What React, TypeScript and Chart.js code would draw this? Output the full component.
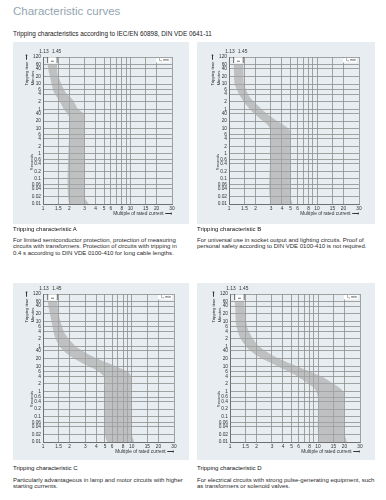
import React, { useEffect, useRef } from "react";
import { Chart, registerables } from "chart.js";

Chart.register(...registerables);

// ---------- data ----------
const X_TICKS = [1, 1.5, 2, 3, 4, 5, 6, 7, 8, 9, 10, 15, 20, 30];
const X_TICK_LABELS = ["1", "1.5", "2", "3", "4", "5", "6", "", "8", "", "10", "15", "20", "30"];
const Y_TICKS = [7200, 3600, 2400, 1200, 600, 360, 240, 120, 60, 40, 20, 10, 6, 4, 2, 1, 0.6, 0.4, 0.2, 0.1, 0.06, 0.04, 0.02, 0.01];
const Y_TICK_LABELS = ["120", "60", "40", "20", "10", "6", "4", "2", "1", "40", "20", "10", "6", "4", "2", "1", "0.6", "0.4", "0.2", "0.1", "0.06", "0.04", "0.02", "0.01"];
const LIMIT_CURRENTS = [1.13, 1.45];
const LIMIT_LABELS = ["1.13", "1.45"];

// characteristic A (multiple of In, tripping time in s)
const A_LOWER_X = [1.13, 1.15, 1.19, 1.33, 1.52, 1.72, 1.9, 2, 2, 2];
const A_LOWER_T = [4000, 2400, 1350, 290, 140, 63, 40, 28, 10, 0.01];
const A_UPPER_X = [1.45, 1.45, 1.48, 1.8, 2.2, 2.5, 2.85, 3, 3, 3, 3.3];
const A_UPPER_T = [4000, 2400, 1350, 290, 140, 63, 44, 36, 10, 0.018, 0.01];
// characteristic B
const B_LOWER_X = [1.13, 1.14, 1.16, 1.32, 1.64, 2.14, 2.78, 3, 3, 3];
const B_LOWER_T = [4000, 2000, 620, 213, 73, 29, 13.5, 8.5, 3, 0.01];
const B_UPPER_X = [1.45, 1.46, 1.48, 1.72, 2.44, 3.46, 4.5, 5, 5, 5, 5.2];
const B_UPPER_T = [4000, 2000, 620, 182, 53, 21, 11.6, 7.3, 3, 0.018, 0.01];
// characteristic C
const C_LOWER_X = [1.13, 1.16, 1.24, 1.36, 1.61, 2.09, 2.83, 4.0, 4.7, 5, 5, 5, 5.4];
const C_LOWER_T = [4000, 2000, 673, 147, 50.6, 23.6, 12.8, 7.0, 4.5, 3.2, 1, 0.02, 0.01];
const C_UPPER_X = [1.45, 1.47, 1.52, 1.76, 2.38, 3.67, 6.2, 9.1, 9.9, 10, 10, 10, 10.5];
const C_UPPER_T = [4000, 2000, 912, 199, 59, 23.6, 11, 6, 3.8, 2.8, 1, 0.02, 0.01];
// characteristic D
const D_LOWER_X = [1.13, 1.15, 1.17, 1.3, 1.62, 2.19, 3.39, 5.3, 7.5, 9.3, 10, 10, 10, 10.5];
const D_LOWER_T = [4000, 2000, 467, 138, 47.5, 22, 10.4, 4.8, 2.2, 1.2, 0.6, 0.2, 0.02, 0.01];
const D_UPPER_X = [1.45, 1.47, 1.5, 1.62, 2.1, 3.39, 6.24, 11.5, 15, 18.5, 20, 20, 20, 21];
const D_UPPER_T = [4000, 2000, 860, 254, 64.6, 22, 8.9, 3.6, 2, 1.2, 0.8, 0.2, 0.02, 0.01];

const TITLE = "Characteristic curves";
const SUBTITLE = "Tripping characteristics according to IEC/EN 60898, DIN VDE 0641-11";

// ---------- styles ----------
const FONT = '"Liberation Sans", Arial, sans-serif';
const PANEL_BG = "#e7edf0";
const BAND = "rgba(165,165,165,0.62)";
const GRID = "#8e8e8e";
const TEXT = "#333333";

type PanelCfg = {
  id: string;
  left: number; top: number; width: number; height: number;
  yAxisW: number; xAxisH: number; padTop: number; padRight: number;
  lx: number[]; lt: number[]; ux: number[]; ut: number[];
  heading: string; body: string[]; headTop: number; bodyTop: number;
};

const PANELS: PanelCfg[] = [
  {
    id: "A", left: 13, top: 42, width: 176, height: 182, yAxisW: 30, xAxisH: 20, padTop: 15, padRight: 17,
    lx: A_LOWER_X, lt: A_LOWER_T, ux: A_UPPER_X, ut: A_UPPER_T,
    heading: "Tripping characteristic A",
    body: [
      "For limited semiconductor protection, protection of measuring",
      "circuits with transformers. Protection of circuits with tripping in",
      "0.4 s according to DIN VDE 0100-410 for long cable lengths.",
    ],
    headTop: 226, bodyTop: 237,
  },
  {
    id: "B", left: 197, top: 42, width: 178, height: 182, yAxisW: 32, xAxisH: 20, padTop: 15, padRight: 16,
    lx: B_LOWER_X, lt: B_LOWER_T, ux: B_UPPER_X, ut: B_UPPER_T,
    heading: "Tripping characteristic B",
    body: [
      "For universal use in socket output and lighting circuits. Proof of",
      "personal safety according to DIN VDE 0100-410 is not required.",
    ],
    headTop: 226, bodyTop: 237,
  },
  {
    id: "C", left: 13, top: 283, width: 176, height: 177, yAxisW: 30, xAxisH: 18, padTop: 11, padRight: 15,
    lx: C_LOWER_X, lt: C_LOWER_T, ux: C_UPPER_X, ut: C_UPPER_T,
    heading: "Tripping characteristic C",
    body: [
      "Particularly advantageous in lamp and motor circuits with higher",
      "starting currents.",
    ],
    headTop: 464.5, bodyTop: 476.5,
  },
  {
    id: "D", left: 197, top: 283, width: 178, height: 177, yAxisW: 33, xAxisH: 18, padTop: 11, padRight: 15,
    lx: D_LOWER_X, lt: D_LOWER_T, ux: D_UPPER_X, ut: D_UPPER_T,
    heading: "Tripping characteristic D",
    body: [
      "For electrical circuits with strong pulse-generating equipment, such",
      "as transformers or solenoid valves.",
    ],
    headTop: 464.5, bodyTop: 476.5,
  },
];

const overlayPlugin = {
  id: "overlay",
  afterDraw(chart: any) {
    const { ctx, chartArea, scales } = chart;
    const x = scales.x;
    const y = scales.y;
    const xa = x.getPixelForValue(LIMIT_CURRENTS[0]);
    const xb = x.getPixelForValue(LIMIT_CURRENTS[1]);
    const top = chartArea.top;
    const y60 = y.getPixelForValue(Y_TICKS[1]);
    const bot = top + (y60 - top) * 0.8;
    ctx.save();
    // bracket of conventional currents
    ctx.fillStyle = "#ffffff";
    ctx.fillRect(xa, top + 0.5, xb - xa, bot - top);
    ctx.strokeStyle = "#444";
    ctx.lineWidth = 0.8;
    ctx.beginPath();
    ctx.moveTo(xa, top); ctx.lineTo(xa, bot);
    ctx.moveTo(xb, top); ctx.lineTo(xb, bot);
    const xm1 = xa + (xb - xa) * 0.35;
    const xm2 = xa + (xb - xa) * 0.65;
    const ym = top + (bot - top) * 0.7;
    ctx.moveTo(xm1, ym); ctx.lineTo(xm2, ym);
    ctx.stroke();
    // labels above plot
    ctx.fillStyle = TEXT;
    ctx.font = `4.8px ${FONT}`;
    ctx.textBaseline = "middle";
    ctx.textAlign = "right";
    ctx.fillText(LIMIT_LABELS[0], xa + 1, top - 5.5);
    ctx.textAlign = "center";
    ctx.fillText(LIMIT_LABELS[1], xb - 0.5, top - 5.5);
    // small tag top right
    const tw = 14;
    ctx.fillStyle = "#ffffff";
    ctx.fillRect(chartArea.right - tw - 2, top + 1, tw, 4.5);
    ctx.fillStyle = TEXT;
    ctx.font = `3.6px ${FONT}`;
    ctx.textAlign = "right";
    ctx.fillText("Iₙ, min", chartArea.right - 3, top + 3.4);
    ctx.restore();
  },
};

function ChartPanel({ p }: { p: PanelCfg }) {
  const ref = useRef<HTMLCanvasElement | null>(null);
  useEffect(() => {
    if (!ref.current) return;
    const lower = p.lx.map((v, i) => ({ x: v, y: p.lt[i] }));
    const upper = p.ux.map((v, i) => ({ x: v, y: p.ut[i] })).reverse();
    const tickFont = { family: FONT, size: 4.8 };
    const chart = new Chart(ref.current, {
      type: "line",
      data: {
        datasets: [
          {
            data: [...lower, ...upper],
            fill: "shape",
            backgroundColor: BAND,
            borderWidth: 0,
            pointRadius: 0,
            tension: 0.25,
          } as any,
        ],
      },
      options: {
        animation: false,
        responsive: false,
        maintainAspectRatio: false,
        layout: { padding: { top: p.padTop, right: p.padRight, left: 0, bottom: 0 } },
        plugins: { legend: { display: false }, tooltip: { enabled: false } },
        scales: {
          x: {
            type: "logarithmic",
            position: "bottom",
            min: 1,
            max: 30,
            bounds: "data",
            afterBuildTicks: (s: any) => {
              s.ticks = X_TICKS.map((v) => ({ value: v }));
            },
            afterFit: (s: any) => {
              s.height = p.xAxisH;
              s.paddingLeft = 0;
              s.paddingRight = 0;
            },
            ticks: {
              autoSkip: false,
              maxRotation: 0,
              minRotation: 0,
              padding: 1.5,
              font: tickFont,
              color: TEXT,
              callback: (_v: any, i: number) => X_TICK_LABELS[i],
            },
            grid: { color: GRID, lineWidth: 0.8, drawTicks: false },
            border: { display: true, color: "#707070", width: 1 },
            title: {
              display: true,
              text: "Multiple of rated current ⟶",
              align: "end",
              color: TEXT,
              font: { family: FONT, size: 4.8 },
              padding: { top: 0, bottom: p.xAxisH - 12.5 },
            },
          } as any,
          y: {
            type: "logarithmic",
            position: "left",
            min: 0.01,
            max: 7200,
            bounds: "data",
            afterBuildTicks: (s: any) => {
              s.ticks = Y_TICKS.map((v) => ({ value: v }));
            },
            afterFit: (s: any) => {
              s.width = p.yAxisW;
              s.paddingTop = 0;
              s.paddingBottom = 0;
            },
            ticks: {
              autoSkip: false,
              padding: 2,
              font: tickFont,
              color: TEXT,
              callback: (_v: any, i: number) => Y_TICK_LABELS[i],
            },
            grid: { color: GRID, lineWidth: 0.8, drawTicks: false },
            border: { display: true, color: "#707070", width: 1 },
          } as any,
        },
      },
      plugins: [overlayPlugin],
    });
    return () => chart.destroy();
  }, [p]);

  const plotLeft = p.left + p.yAxisW;
  const plotTop = p.top + p.padTop;
  const rot = (cx: number, cy: number, text: string, size: number) => (
    <div
      style={{
        position: "absolute",
        left: cx,
        top: cy,
        transform: "translate(-50%, -50%) rotate(-90deg)",
        whiteSpace: "nowrap",
        fontSize: size,
        lineHeight: 1,
        color: TEXT,
      }}
    >
      {text}
    </div>
  );

  return (
    <>
      <div
        style={{
          position: "absolute",
          left: p.left,
          top: p.top,
          width: p.width,
          height: p.height,
          background: PANEL_BG,
        }}
      >
        <canvas ref={ref} width={p.width} height={p.height} style={{ width: p.width, height: p.height, display: "block" }} />
      </div>
      {rot(plotLeft - 16, plotTop + 13, "Tripping time ⟶", 4.2)}
      {rot(plotLeft - 10.3, plotTop + 21, "Minutes", 4.2)}
      {rot(plotLeft - 11.5, plotTop + 105, "Seconds", 4.2)}
      <div
        style={{
          position: "absolute",
          left: p.left,
          top: p.headTop,
          fontSize: 6,
          lineHeight: "6px",
          whiteSpace: "nowrap",
          color: "#111",
        }}
      >
        {p.heading}
      </div>
      <div
        style={{
          position: "absolute",
          left: p.left,
          top: p.bodyTop,
          fontSize: 6,
          lineHeight: "6.3px",
          whiteSpace: "nowrap",
          color: "#2a2a2a",
        }}
      >
        {p.body.map((l, i) => (
          <div key={i}>{l}</div>
        ))}
      </div>
    </>
  );
}

export default function App() {
  return (
    <div
      style={{
        position: "absolute",
        left: 0,
        top: 0,
        width: 386,
        height: 500,
        background: "#ffffff",
        fontFamily: FONT,
        overflow: "hidden",
      }}
    >
      <div style={{ position: "absolute", left: 13, top: 5.5, fontSize: 11.5, lineHeight: "11px", color: "#93a5b0", whiteSpace: "nowrap" }}>
        {TITLE}
      </div>
      <div style={{ position: "absolute", left: 13, top: 31, fontSize: 6.4, lineHeight: "6px", color: "#222", whiteSpace: "nowrap" }}>
        {SUBTITLE}
      </div>
      {PANELS.map((p) => (
        <ChartPanel key={p.id} p={p} />
      ))}
    </div>
  );
}
